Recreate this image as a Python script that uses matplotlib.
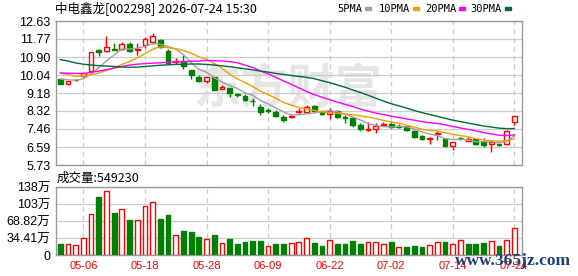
import numpy as np
import pandas as pd
import matplotlib
matplotlib.use('Agg')
import matplotlib.pyplot as plt
from matplotlib.patches import Rectangle

plt.rcParams['font.family'] = ['Liberation Sans', 'Noto Sans CJK SC']

# 日K数据 (60 trading days)
open_ = [9.85, 9.63, 9.78, 9.98, 10.22, 11.22, 11.18, 11.30, 11.29, 11.55,
         11.26, 11.47, 11.61, 11.74, 11.21, 10.65, 10.70, 10.30, 9.93, 9.77,
         9.93, 9.37, 9.42, 9.11, 9.05, 8.82, 8.50, 8.37, 8.29, 8.05,
         8.02, 8.26, 8.28, 8.56, 8.32, 8.16, 8.34, 8.02, 7.97, 7.65,
         7.43, 7.44, 7.64, 7.70, 7.60, 7.58, 7.38, 7.13, 6.96, 7.20,
         6.96, 6.66, 7.02, 6.90, 6.96, 6.84, 6.74, 6.72, 6.72, 7.78]
high = [9.87, 9.77, 9.86, 10.18, 11.16, 11.31, 11.90, 11.58, 11.62, 11.62,
        11.58, 11.85, 12.06, 11.77, 11.29, 10.86, 11.02, 10.30, 10.06, 9.95,
        9.97, 9.54, 9.44, 9.20, 9.11, 8.94, 8.66, 8.45, 8.35, 8.13,
        8.18, 8.44, 8.60, 8.60, 8.34, 8.45, 8.38, 8.13, 8.05, 7.73,
        7.78, 7.73, 7.80, 7.80, 7.68, 7.62, 7.43, 7.17, 7.06, 7.35,
        7.02, 6.85, 7.06, 7.08, 7.00, 7.01, 6.85, 6.76, 7.40, 8.08]
low = [9.59, 9.54, 9.74, 9.95, 10.09, 10.94, 11.13, 11.22, 11.23, 11.14,
       11.02, 11.34, 11.55, 11.34, 10.57, 10.57, 10.35, 9.86, 9.71, 9.66,
       9.30, 9.37, 8.98, 8.98, 8.79, 8.58, 8.13, 8.23, 8.03, 7.81,
       7.96, 8.15, 8.22, 8.28, 8.13, 7.94, 8.00, 7.76, 7.55, 7.38,
       7.36, 7.28, 7.60, 7.50, 7.52, 7.38, 7.03, 6.93, 6.75, 6.95,
       6.64, 6.45, 6.95, 6.86, 6.68, 6.61, 6.34, 6.66, 6.69, 7.66]
close = [9.61, 9.76, 9.81, 10.12, 11.15, 11.13, 11.39, 11.24, 11.53, 11.18,
         11.31, 11.79, 11.93, 11.37, 10.62, 10.70, 10.46, 10.02, 9.77, 9.95,
         9.34, 9.47, 9.18, 9.07, 8.86, 8.78, 8.26, 8.33, 8.10, 7.89,
         8.07, 8.31, 8.53, 8.32, 8.17, 8.34, 8.05, 7.97, 7.65, 7.44,
         7.47, 7.60, 7.70, 7.55, 7.57, 7.40, 7.08, 6.97, 7.03, 7.24,
         6.66, 6.84, 7.00, 6.99, 6.73, 6.70, 6.82, 6.69, 7.35, 8.07]
# 成交量 (万)
volume = [22.2, 21.5, 20.2, 33.7, 82.1, 117.0, 129.0, 84.8, 93.0, 71.4,
          70.7, 99.0, 106.4, 73.4, 80.8, 39.7, 48.5, 46.5, 36.4, 31.6,
          40.4, 23.6, 32.3, 22.2, 26.3, 28.3, 28.3, 18.2, 22.2, 22.2,
          23.6, 25.6, 33.7, 23.6, 18.2, 29.6, 22.2, 22.2, 28.3, 22.2,
          25.6, 25.6, 21.5, 25.6, 15.5, 16.2, 18.2, 16.2, 19.5, 25.6,
          25.6, 21.5, 29.6, 22.2, 22.2, 23.6, 27.6, 18.2, 29.6, 54.9]

# 均线在图内起点前需要历史数据, 这里直接读图
ma5_head = [9.85, 9.81, 9.79, 9.86]
ma10_head = [10.12, 10.07, 9.98, 9.99, 10.04, 10.14, 10.26, 10.39, 10.55]
ma20_head = [10.14, 10.13, 10.12, 10.11, 10.17, 10.23, 10.30, 10.38, 10.45, 10.52,
             10.56, 10.59, 10.61, 10.63, 10.65, 10.67, 10.68, 10.70, 10.71]
ma30_head = [10.78, 10.71, 10.62, 10.56, 10.52, 10.49, 10.47, 10.45, 10.43, 10.41,
             10.42, 10.45, 10.48, 10.51, 10.53, 10.55, 10.56, 10.57, 10.57, 10.55,
             10.52, 10.48, 10.44, 10.39, 10.34, 10.29, 10.23, 10.18, 10.12]

price_ticks = [5.73, 6.59, 7.46, 8.32, 9.18, 10.04, 10.90, 11.77, 12.63]
vol_ticks = [0, 34.41, 68.82, 103.23, 137.64]
vol_labels = ['0', '34.41万', '68.82万', '103万', '138万']
date_idx = [3, 11, 19, 27, 35, 43, 51, 59]
date_labels = ['05-06', '05-18', '05-28', '06-09', '06-22', '07-02', '07-14', '07-24']

title = '中电鑫龙[002298] 2026-07-24 15:30'
ma_names = ['5PMA', '10PMA', '20PMA', '30PMA']
ma_colors = ['#a0a0a0', '#f0a000', '#ff00ff', '#006a35']

RED = '#ff0000'
GREEN = '#008000'

#%%
df = pd.DataFrame({'open': open_, 'high': high, 'low': low, 'close': close, 'vol': volume})
x = np.arange(len(df))


def ma(n, head):
    m = df['close'].rolling(n).mean().to_numpy()
    m[:n - 1] = head
    return m


mas = [ma(5, ma5_head), ma(10, ma10_head), ma(20, ma20_head), ma(30, ma30_head)]

W, H = 578, 276
fig = plt.figure(figsize=(W / 100, H / 100), dpi=100)
ax1 = fig.add_axes([56 / W, 1 - 165 / H, 466 / W, 144 / H])
ax2 = fig.add_axes([56 / W, 1 - 255 / H, 466 / W, 68 / H])

for ax in (ax1, ax2):
    ax.set_xlim(-0.56, 60.0)
    for s in ax.spines.values():
        s.set_color('#999999')
        s.set_linewidth(1)
    for i in date_idx:
        ax.axvline(i, color='#cccccc', lw=0.9, ls=(0, (4, 3)), zorder=0)
    ax.tick_params(length=0, labelsize=9, pad=4)

# K线
ax1.set_ylim(price_ticks[0], price_ticks[-1])
ax1.set_yticks(price_ticks)
ax1.set_yticklabels(['%.2f' % p for p in price_ticks])
ax1.set_xticks([])
ax1.grid(axis='y', color='#cccccc', lw=0.9)
ax1.text(29.5, 9.35, '东方财富', fontsize=34, color='#e6e6e6', fontweight='bold',
         ha='center', va='center', family=['Noto Sans CJK SC'], zorder=0.5)

up = df['close'] >= df['open']
ax1.vlines(x, df['low'], df['high'], colors=np.where(up, RED, GREEN), lw=1, zorder=2)
body_bot = np.minimum(df['open'], df['close'])
body_h = np.maximum((df['close'] - df['open']).abs(), 0.012)
ax1.bar(x[up], body_h[up], bottom=body_bot[up], width=0.62, facecolor='white',
        edgecolor=RED, lw=1, zorder=3)
ax1.bar(x[~up], body_h[~up], bottom=body_bot[~up], width=0.62, facecolor=GREEN,
        edgecolor=GREEN, lw=1, zorder=3)

for m, c in zip(mas, ma_colors):
    ax1.plot(x, m, color=c, lw=1, zorder=4)

# 成交量
vol_up = np.diff(np.r_[df['open'][0], df['close']]) >= 0
ax2.set_ylim(0, vol_ticks[-1])
ax2.set_yticks(vol_ticks)
ax2.set_yticklabels(vol_labels)
ax2.grid(axis='y', color='#cccccc', lw=0.9)
ax2.bar(x[vol_up], df['vol'][vol_up], width=0.62, facecolor='white', edgecolor=RED, lw=1, zorder=3)
ax2.bar(x[~vol_up], df['vol'][~vol_up], width=0.62, facecolor=GREEN, edgecolor=GREEN, lw=1, zorder=3)
ax2.set_xticks(date_idx)
ax2.set_xticklabels(date_labels, color=RED, fontsize=8)
ax2.tick_params(axis='x', pad=4)

# 标题与图例
fig.text(55 / W, 1 - 9 / H, title, fontsize=9, va='center', family=['Noto Sans CJK SC'])
for name, c, xr in zip(ma_names, ma_colors, [362, 410, 456, 502]):
    fig.text(xr / W, 1 - 9 / H, name, fontsize=7.5, va='center', ha='right',
             family=['DejaVu Sans Mono'])
    fig.patches.append(Rectangle(((xr + 3) / W, 1 - 10 / H), 6 / W, 3 / H,
                                 transform=fig.transFigure, color=c))
fig.text(57 / W, 1 - 178 / H, '成交量:%d' % 549230, fontsize=9, va='center',
         family=['Noto Sans CJK SC'])

fig.text(455 / W, 1 - 261 / H, 'www.365jz.com', fontsize=12.5, va='center',
         color='#1c3f7a', fontweight='bold', family=['Liberation Serif'], zorder=10)

fig.savefig('out.png', dpi=100)
